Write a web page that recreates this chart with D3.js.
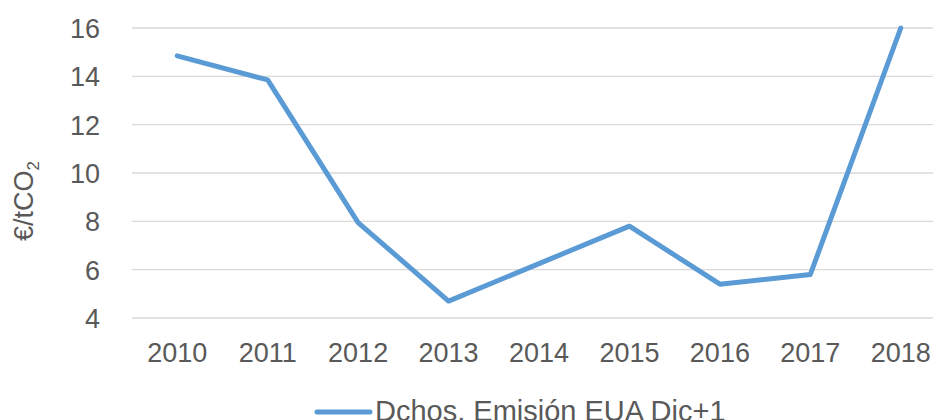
<!DOCTYPE html>
<html>
<head>
<meta charset="utf-8">
<script src="https://cdn.jsdelivr.net/npm/d3@7"></script>
<style>
  html, body { margin: 0; padding: 0; background: #fff; overflow: hidden; }
  svg { display: block; font-family: "Liberation Sans", Arial, sans-serif; }
</style>
</head>
<body>
<svg id="chart" width="933" height="420"></svg>
<script>
// Annual EUA December+1 emission allowance prices
const years = ["2010", "2011", "2012", "2013", "2014", "2015", "2016", "2017", "2018"];
const prices = [14.85, 13.85, 7.95, 4.7, 6.25, 7.8, 5.4, 5.8, 16.0];
const yTicks = [4, 6, 8, 10, 12, 14, 16];
const seriesName = "Dchos. Emisión EUA Dic+1";
const yTitle = "€/tCO";

const svg = d3.select("#chart");
const margin = { left: 132, right: -13, top: 28, bottom: 102 };
const W = 933, H = 420;

const x = d3.scaleBand().domain(years).range([margin.left, W - margin.right]);
const y = d3.scaleLinear().domain([4, 16]).range([H - margin.bottom, margin.top]);

const textColor = "#595959";
const gridColor = "#d9d9d9";
const lineColor = "#5b9bd5";

// horizontal gridlines
svg.append("g")
  .selectAll("line")
  .data(yTicks)
  .join("line")
  .attr("x1", margin.left)
  .attr("x2", W - margin.right)
  .attr("y1", d => y(d))
  .attr("y2", d => y(d))
  .attr("stroke", gridColor)
  .attr("stroke-width", 1.3);

// y tick labels
const yAxis = svg.append("g")
  .attr("transform", `translate(${margin.left - 32},0)`)
  .call(d3.axisLeft(y).tickValues(yTicks).tickSize(0).tickPadding(0));
yAxis.select(".domain").remove();
yAxis.selectAll("text")
  .attr("fill", textColor)
  .style("font-size", "27px")
  .attr("dy", "0.35em");

// x tick labels
const xAxis = svg.append("g")
  .attr("transform", `translate(0,${y(4)})`)
  .call(d3.axisBottom(x).tickSize(0).tickPadding(0));
xAxis.select(".domain").remove();
xAxis.selectAll("text")
  .attr("fill", textColor)
  .style("font-size", "27px")
  .attr("dy", "0")
  .attr("y", 44);

// y axis title with subscript
const title = svg.append("text")
  .attr("transform", `translate(33,201) rotate(-90)`)
  .attr("text-anchor", "middle")
  .attr("fill", textColor)
  .style("font-size", "27px");
title.append("tspan").text(yTitle);
title.append("tspan").attr("dy", 6).style("font-size", "17px").text("2");

// price line
const line = d3.line()
  .x((d, i) => x(years[i]) + x.bandwidth() / 2)
  .y(d => y(d));

svg.append("path")
  .datum(prices)
  .attr("d", line)
  .attr("fill", "none")
  .attr("stroke", lineColor)
  .attr("stroke-width", 5)
  .attr("stroke-linejoin", "round")
  .attr("stroke-linecap", "round");

// legend
const legend = svg.append("g").attr("transform", "translate(317,412)");
legend.append("line")
  .attr("x1", 0).attr("x2", 53)
  .attr("y1", 0).attr("y2", 0)
  .attr("stroke", lineColor)
  .attr("stroke-width", 5)
  .attr("stroke-linecap", "round");
legend.append("text")
  .attr("x", 58)
  .attr("y", 9)
  .attr("fill", textColor)
  .style("font-size", "29px")
  .text(seriesName);
</script>
</body>
</html>
